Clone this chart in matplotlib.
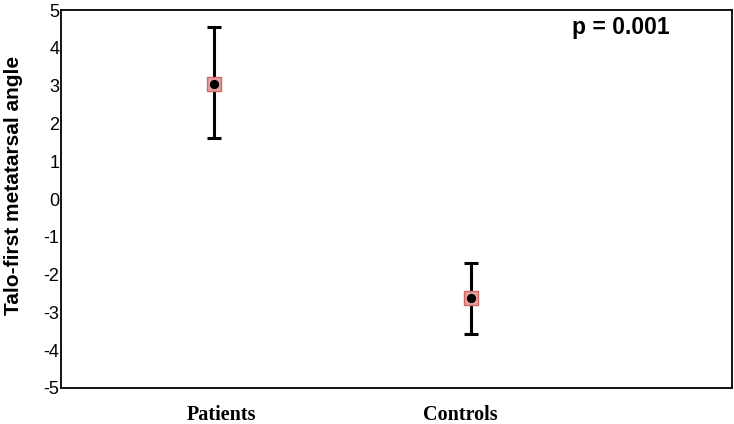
import numpy as np
import matplotlib.pyplot as plt
import matplotlib.transforms as mtransforms

plt.rcParams['axes.unicode_minus'] = False

# Gruppien tiedot (luettu kuvasta)
groups = ['Patients', 'Controls']
means = [3.05, -2.62]
upper = [4.55, -1.68]
lower = [1.62, -3.58]
p_text = 'p = 0.001'

fig = plt.figure(figsize=(7.34, 4.24), dpi=100)
ax = fig.add_axes([0.083, 0.085, 0.914, 0.891])

x = np.arange(1, len(groups) + 1)
yerr = [np.array(means) - np.array(lower), np.array(upper) - np.array(means)]

ax.errorbar(x, means, yerr=yerr, fmt='none', ecolor='black', elinewidth=2.2,
            capsize=5, capthick=2.2, zorder=2)
ax.scatter(x, means, marker='s', s=110, color='#e8a0a0', edgecolors='#d06868',
           linewidths=1, zorder=3)
ax.scatter(x, means, marker='o', s=32, color='black', zorder=4)

ax.set_xlim(0.405, 3.015)
ax.set_ylim(-5, 5)
ax.set_yticks(np.arange(-5, 6, 1))
ax.set_xticks(x)
ax.set_xticklabels(groups, fontfamily='Liberation Serif', fontweight='bold', fontsize=14.5)
ax.tick_params(axis='x', length=0, pad=12)
ax.tick_params(axis='y', length=0, pad=1, labelsize=13)
for lab in ax.get_yticklabels():
    lab.set_fontfamily('Liberation Sans')

# nimikkeet eivät ole aivan pisteiden kohdalla alkuperäisessä kuvassa
for lab, dx in zip(ax.get_xticklabels(), [8, -11]):
    lab.set_transform(lab.get_transform() + mtransforms.ScaledTranslation(dx / 100, 0, fig.dpi_scale_trans))

ax.set_ylabel('Talo-first metatarsal angle', fontfamily='Liberation Sans',
              fontweight='bold', fontsize=15)
ax.yaxis.set_label_coords(-0.057, 0.537)

for s in ax.spines.values():
    s.set_linewidth(1.3)
    s.set_color('black')

ax.text(0.835, 0.953, p_text, transform=ax.transAxes, ha='center', va='center',
        fontfamily='Liberation Sans', fontweight='bold', fontsize=16.5)

fig.savefig('out.png', dpi=100)
